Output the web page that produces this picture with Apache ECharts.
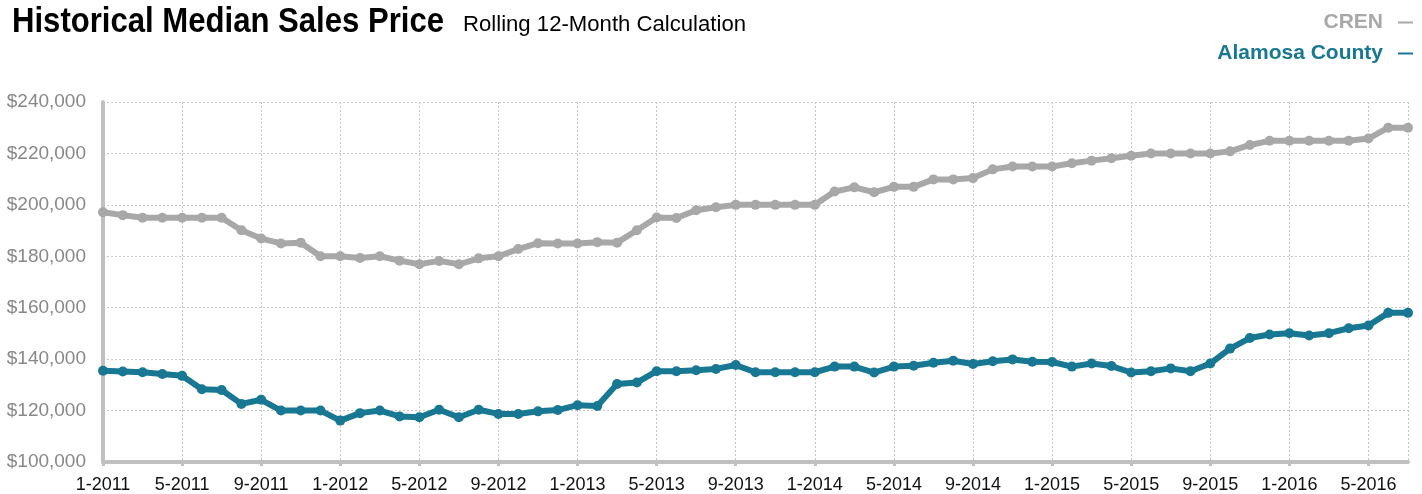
<!DOCTYPE html>
<html>
<head>
<meta charset="utf-8">
<script src="https://cdn.jsdelivr.net/npm/echarts@6/dist/echarts.min.js"></script>
<style>
  html, body { margin: 0; padding: 0; background: #fff; }
  #chart { width: 1422px; height: 494px; }
</style>
</head>
<body>
<div id="chart"></div>
<script>
const months = [
  "1-2011", "2-2011", "3-2011", "4-2011", "5-2011", "6-2011", "7-2011", "8-2011", "9-2011", "10-2011", "11-2011", "12-2011",
  "1-2012", "2-2012", "3-2012", "4-2012", "5-2012", "6-2012", "7-2012", "8-2012", "9-2012", "10-2012", "11-2012", "12-2012",
  "1-2013", "2-2013", "3-2013", "4-2013", "5-2013", "6-2013", "7-2013", "8-2013", "9-2013", "10-2013", "11-2013", "12-2013",
  "1-2014", "2-2014", "3-2014", "4-2014", "5-2014", "6-2014", "7-2014", "8-2014", "9-2014", "10-2014", "11-2014", "12-2014",
  "1-2015", "2-2015", "3-2015", "4-2015", "5-2015", "6-2015", "7-2015", "8-2015", "9-2015", "10-2015", "11-2015", "12-2015",
  "1-2016", "2-2016", "3-2016", "4-2016", "5-2016", "6-2016", "7-2016"
];

// CREN (gray)
const crenValues = [
  197100, 196000, 195000, 195000, 195000, 195000, 195000, 190100, 186900, 185000, 185300, 180000,
  180000, 179300, 180000, 178300, 176900, 178200, 176900, 179200, 180000, 182800, 185100, 185000,
  185000, 185500, 185300, 190100, 195100, 194900, 197900, 199100, 200000, 200000, 200000, 200000,
  200000, 205200, 206800, 204900, 207000, 207000, 209900, 209900, 210400, 213800, 214900, 214900,
  214900, 216200, 217200, 218100, 219100, 220000, 220000, 220000, 220000, 220800, 223300, 224900,
  224900, 224900, 224900, 224900, 225800, 230000, 230000
];

// Alamosa County (teal)
const alamosaValues = [
  135500, 135200, 134900, 134200, 133500, 128300, 128000, 122600, 124200, 120000, 120000, 120000,
  116100, 119000, 120000, 117700, 117400, 120300, 117400, 120300, 118700, 118700, 119700, 120200,
  122100, 121800, 130300, 130900, 135300, 135300, 135700, 136200, 137700, 134900, 134900, 134900,
  134900, 137100, 137100, 134800, 137100, 137400, 138600, 139400, 138100, 139200, 139900, 139000,
  138900, 137100, 138300, 137300, 134800, 135300, 136400, 135300, 138300, 144100, 148200, 149600,
  150100, 149200, 150100, 152000, 153100, 158000, 158000
];

const yTicks = { min: 100000, max: 240000, step: 20000 };

const GRAY = "#a8a8a8";
const TEAL = "#187893";
const FONT = "'Liberation Sans', Arial, sans-serif";

// no condensed face installed, so squeeze the heading horizontally
const measure = document.createElement("canvas").getContext("2d");
function squeeze(text, font, width) {
  measure.font = font;
  return width / measure.measureText(text).width;
}

const titleText = "Historical Median Sales Price";
const titleFont = "bold 35px " + FONT;
const subText = "Rolling 12-Month Calculation";
const subFont = "22px " + FONT;

const chart = echarts.init(document.getElementById("chart"));

chart.setOption({
  animation: false,
  graphic: [
    {
      type: "text",
      x: 12,
      y: 22,
      scaleX: squeeze(titleText, titleFont, 432),
      style: { text: titleText, font: titleFont, fill: "#000", textVerticalAlign: "middle", verticalAlign: "middle" },
    },
    {
      type: "text",
      x: 463,
      y: 25,
      scaleX: squeeze(subText, subFont, 283),
      style: { text: subText, font: subFont, fill: "#000", textVerticalAlign: "middle", verticalAlign: "middle" },
    },
  ],
  legend: {
    orient: "vertical",
    right: 4,
    top: 7,
    align: "right",
    itemGap: 10,
    itemWidth: 15,
    itemHeight: 2,
    icon: "path://M0,0 L15,0 L15,2 L0,2 Z",
    selectedMode: false,
    textStyle: { fontFamily: FONT, fontWeight: "bold", fontSize: 21, padding: [0, 10, 0, 0] },
    data: [
      { name: "CREN", textStyle: { color: GRAY } },
      { name: "Alamosa County", textStyle: { color: TEAL } },
    ],
  },
  grid: { left: 103, right: 14, top: 102, bottom: 31 },
  xAxis: {
    type: "category",
    data: months,
    boundaryGap: false,
    axisLine: { lineStyle: { color: "#c0c0c0", width: 4 } },
    axisTick: {
      interval: 3,
      length: 4,
      lineStyle: { color: "#c0c0c0", width: 3 },
    },
    axisLabel: {
      interval: 3,
      color: "#111",
      fontFamily: FONT,
      fontSize: 18,
      margin: 14,
    },
    splitLine: {
      show: true,
      interval: function (index) {
        return index % 4 === 0 || index === months.length - 1;
      },
      lineStyle: { color: "#c8c8c8", type: [2, 2], width: 1 },
    },
  },
  yAxis: {
    type: "value",
    min: yTicks.min,
    max: yTicks.max,
    interval: yTicks.step,
    axisLine: { show: true, lineStyle: { color: "#c0c0c0", width: 4 } },
    axisTick: { show: false },
    axisLabel: {
      color: "#888",
      fontFamily: FONT,
      fontSize: 19,
      margin: 17,
      formatter: (v) => "$" + v.toLocaleString("en-US"),
    },
    splitLine: { lineStyle: { color: "#c8c8c8", type: [2, 2], width: 1 } },
  },
  series: [
    {
      name: "CREN",
      type: "line",
      data: crenValues,
      symbol: "circle",
      symbolSize: 10,
      showAllSymbol: true,
      lineStyle: { color: GRAY, width: 6 },
      itemStyle: { color: GRAY },
    },
    {
      name: "Alamosa County",
      type: "line",
      data: alamosaValues,
      symbol: "circle",
      symbolSize: 10,
      showAllSymbol: true,
      lineStyle: { color: TEAL, width: 6 },
      itemStyle: { color: TEAL },
    },
  ],
});
</script>
</body>
</html>
